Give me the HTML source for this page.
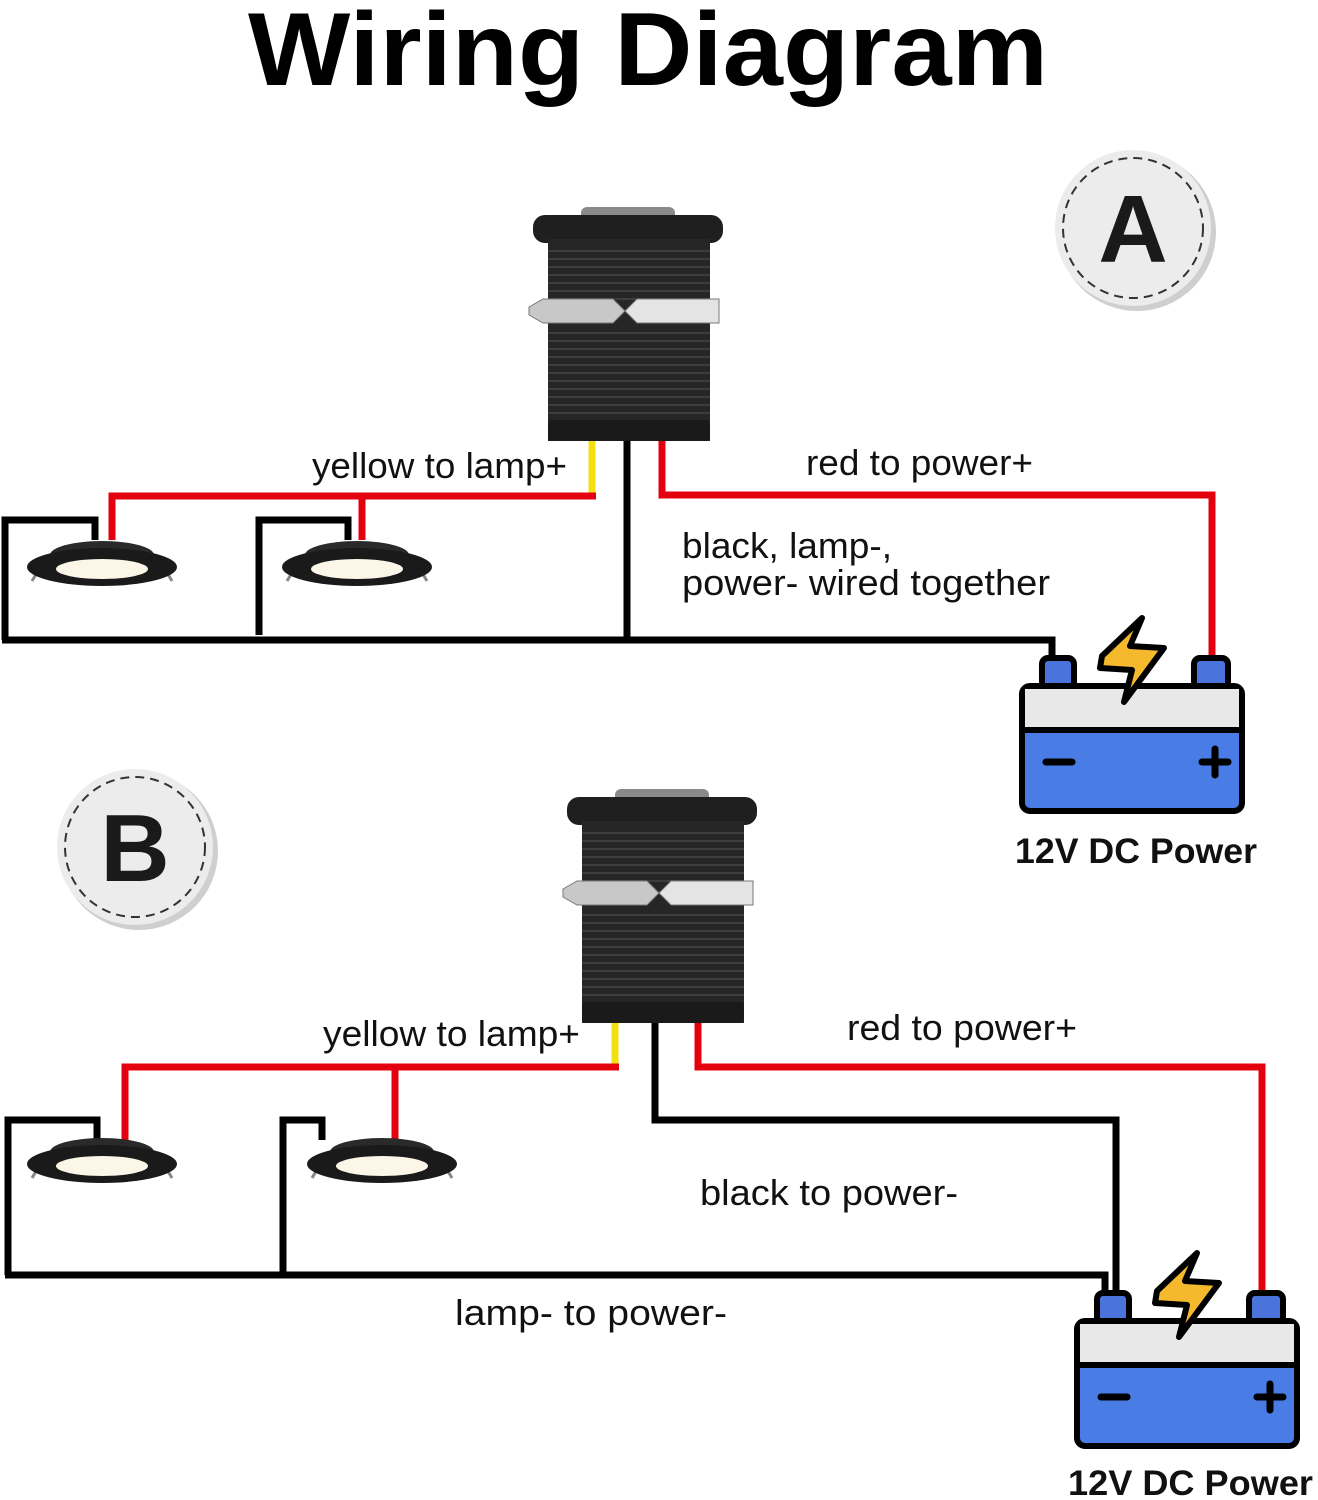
<!DOCTYPE html>
<html><head><meta charset="utf-8"><style>
html,body{margin:0;padding:0;background:#fff;}
svg{display:block;}
text{font-family:"Liberation Sans",sans-serif;}
</style></head><body>
<svg width="1318" height="1500" viewBox="0 0 1318 1500" xmlns="http://www.w3.org/2000/svg">
<defs>
<g id="sw">
  <rect x="48" y="-8" width="94" height="14" rx="6" fill="#8a8a8a"/>
  <rect x="0" y="0" width="190" height="28" rx="12" fill="#1f1f1f"/>
  <rect x="15" y="24" width="162" height="202" fill="#262626"/>
  <g stroke="#3d3d3d" stroke-width="2">
    <line x1="15" y1="36" x2="177" y2="36"/><line x1="15" y1="44" x2="177" y2="44"/><line x1="15" y1="52" x2="177" y2="52"/><line x1="15" y1="60" x2="177" y2="60"/><line x1="15" y1="68" x2="177" y2="68"/><line x1="15" y1="76" x2="177" y2="76"/><line x1="15" y1="84" x2="177" y2="84"/>
    <line x1="15" y1="118" x2="177" y2="118"/><line x1="15" y1="126" x2="177" y2="126"/><line x1="15" y1="134" x2="177" y2="134"/><line x1="15" y1="142" x2="177" y2="142"/><line x1="15" y1="150" x2="177" y2="150"/><line x1="15" y1="158" x2="177" y2="158"/><line x1="15" y1="166" x2="177" y2="166"/><line x1="15" y1="174" x2="177" y2="174"/><line x1="15" y1="182" x2="177" y2="182"/><line x1="15" y1="190" x2="177" y2="190"/><line x1="15" y1="198" x2="177" y2="198"/>
  </g>
  <rect x="15" y="205" width="162" height="21" rx="4" fill="#1a1a1a"/>
  <path d="M-4 92 L10 84 L80 84 L92 96 L80 108 L10 108 L-4 100 Z" fill="#c8c8c8" stroke="#777"/>
  <path d="M92 96 L104 84 L186 84 L186 108 L104 108 Z" fill="#e4e4e4" stroke="#777"/>
</g>
<g id="lamp">
  <path d="M-58 -4 L-70 16" stroke="#888" stroke-width="3" fill="none"/>
  <path d="M58 -4 L70 16" stroke="#888" stroke-width="3" fill="none"/>
  <ellipse cx="0" cy="-10" rx="52" ry="14" fill="#2a2a2a"/>
  <ellipse cx="0" cy="2" rx="75" ry="19" fill="#1a1a1a"/>
  <ellipse cx="0" cy="4" rx="46" ry="10" fill="#fbf6e8"/>
</g>
<g id="bat">
  <rect x="20" y="-28" width="32" height="32" rx="6" fill="#4a74db" stroke="#000" stroke-width="6"/>
  <rect x="172" y="-28" width="34" height="32" rx="6" fill="#4a74db" stroke="#000" stroke-width="6"/>
  <rect x="0" y="0" width="220" height="125" rx="8" fill="#4a7ce6" stroke="#000" stroke-width="6"/>
  <rect x="3" y="3" width="214" height="40" fill="#e8e8e8"/>
  <line x1="0" y1="44" x2="220" y2="44" stroke="#000" stroke-width="6"/>
  <line x1="24" y1="76" x2="50" y2="76" stroke="#000" stroke-width="7" stroke-linecap="round"/>
  <line x1="180" y1="76" x2="206" y2="76" stroke="#000" stroke-width="7" stroke-linecap="round"/>
  <line x1="193" y1="63" x2="193" y2="89" stroke="#000" stroke-width="7" stroke-linecap="round"/>
  <path d="M80 -30 L120 -68 L108 -40 L142 -38 L102 16 L110 -16 L78 -18 Z" fill="#f5b92e" stroke="#000" stroke-width="6" stroke-linejoin="round"/>
</g>
</defs>

<text x="248" y="85" textLength="800" lengthAdjust="spacingAndGlyphs" font-size="104" font-weight="bold" fill="#000">Wiring Diagram</text>

<circle cx="1137" cy="232" r="79" fill="#cfcfcf"/>
<circle cx="1133" cy="228" r="78" fill="#ececec"/>
<circle cx="1133" cy="228" r="70" fill="none" stroke="#333" stroke-width="2" stroke-dasharray="9 6"/>
<text x="1133" y="262" text-anchor="middle" font-size="96" font-weight="bold" fill="#1a1a1a">A</text>
<circle cx="139" cy="851" r="79" fill="#cfcfcf"/>
<circle cx="135" cy="847" r="78" fill="#ececec"/>
<circle cx="135" cy="847" r="70" fill="none" stroke="#333" stroke-width="2" stroke-dasharray="9 6"/>
<text x="135" y="881" text-anchor="middle" font-size="96" font-weight="bold" fill="#1a1a1a">B</text>

<g fill="none" stroke-width="7" stroke-linejoin="miter">
  <polyline points="5,640 5,520 95,520 95,540" stroke="#000"/>
  <polyline points="259,635 259,520 348,520 348,540" stroke="#000"/>
  <polyline points="2,640 1052,640 1052,662" stroke="#000"/>
  <line x1="627" y1="440" x2="627" y2="640" stroke="#000"/>
  <line x1="592" y1="440" x2="592" y2="496" stroke="#f4df10"/>
  <polyline points="596,496 112,496 112,540" stroke="#e3000f"/>
  <line x1="362" y1="496" x2="362" y2="540" stroke="#e3000f"/>
  <polyline points="662,440 662,495 1212,495 1212,662" stroke="#e3000f"/>
</g>
<use href="#sw" x="533" y="215"/>
<use href="#lamp" x="102" y="565"/>
<use href="#lamp" x="357" y="565"/>
<use href="#bat" x="1022" y="686"/>
<g font-size="36" fill="#111">
<text x="312" y="478" textLength="255" lengthAdjust="spacingAndGlyphs">yellow to lamp+</text>
<text x="806" y="475" textLength="227" lengthAdjust="spacingAndGlyphs">red to power+</text>
<text x="682" y="558" textLength="210" lengthAdjust="spacingAndGlyphs">black, lamp-,</text>
<text x="682" y="595" textLength="368" lengthAdjust="spacingAndGlyphs">power- wired together</text>
<text x="323" y="1046" textLength="257" lengthAdjust="spacingAndGlyphs">yellow to lamp+</text>
<text x="847" y="1040" textLength="230" lengthAdjust="spacingAndGlyphs">red to power+</text>
<text x="700" y="1205" textLength="258" lengthAdjust="spacingAndGlyphs">black to power-</text>
<text x="455" y="1325" textLength="272" lengthAdjust="spacingAndGlyphs">lamp- to power-</text>
</g>
<text x="1015" y="863" textLength="242" lengthAdjust="spacingAndGlyphs" font-size="35" font-weight="bold" fill="#111">12V DC Power</text>

<g fill="none" stroke-width="7">
  <polyline points="8,1275 8,1120 97,1120 97,1140" stroke="#000"/>
  <polyline points="283,1272 283,1120 322,1120 322,1140" stroke="#000"/>
  <polyline points="5,1275 1105,1275 1105,1298" stroke="#000"/>
  <polyline points="655,1015 655,1120 1116,1120 1116,1298" stroke="#000"/>
  <line x1="615" y1="1015" x2="615" y2="1067" stroke="#f4df10"/>
  <polyline points="619,1067 125,1067 125,1140" stroke="#e3000f"/>
  <line x1="395" y1="1067" x2="395" y2="1140" stroke="#e3000f"/>
  <polyline points="698,1015 698,1067 1262,1067 1262,1298" stroke="#e3000f"/>
</g>
<use href="#sw" x="567" y="797"/>
<use href="#lamp" x="102" y="1162"/>
<use href="#lamp" x="382" y="1162"/>
<use href="#bat" x="1077" y="1321"/>
<text x="1068" y="1495" textLength="245" lengthAdjust="spacingAndGlyphs" font-size="35" font-weight="bold" fill="#111">12V DC Power</text>
</svg>
</body></html>
